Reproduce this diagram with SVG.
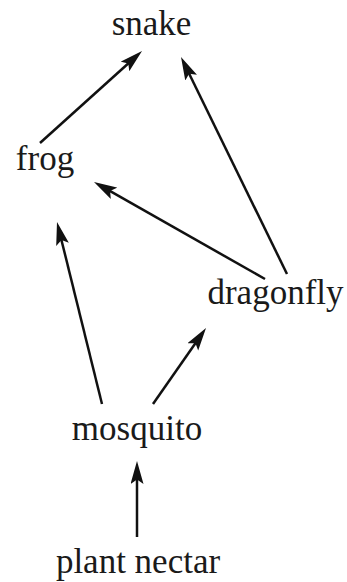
<svg xmlns="http://www.w3.org/2000/svg" width="347" height="582" viewBox="0 0 347 582">
<defs>
<style>
.lbl{font-family:"Liberation Serif","Times New Roman",serif;font-size:35px;fill:#1a1a1a;text-anchor:middle}
.edge{stroke:#111;stroke-width:2.5;fill:none;marker-end:url(#ah)}
</style>
<marker id="ah" markerUnits="userSpaceOnUse" markerWidth="24" markerHeight="14" refX="13" refY="6.5" orient="auto" viewBox="0 0 24 14">
<path d="M23,6.5 L0,0 L4.5,6.5 L0,13 Z" fill="#111"/>
</marker>
</defs>
<rect width="347" height="582" fill="#fff"/>
<g id="connectors">
<path class="edge" d="M40,143 L134.6,57.7"/>
<path class="edge" d="M287,274 L185.4,66"/>
<path class="edge" d="M265,279 L102.7,186.9"/>
<path class="edge" d="M102,404 L59.4,231.7"/>
<path class="edge" d="M153,404 L200.3,336.2"/>
<path class="edge" d="M137,537 L137,471"/>
</g>
<g id="snake"><text class="lbl" x="151.5" y="35">snake</text></g>
<g id="frog"><text class="lbl" x="45" y="170">frog</text></g>
<g id="dragonfly"><text class="lbl" x="275.5" y="304">dragonfly</text></g>
<g id="mosquito"><text class="lbl" x="137" y="440">mosquito</text></g>
<g id="plant-nectar"><text class="lbl" x="138" y="573">plant nectar</text></g>
</svg>
